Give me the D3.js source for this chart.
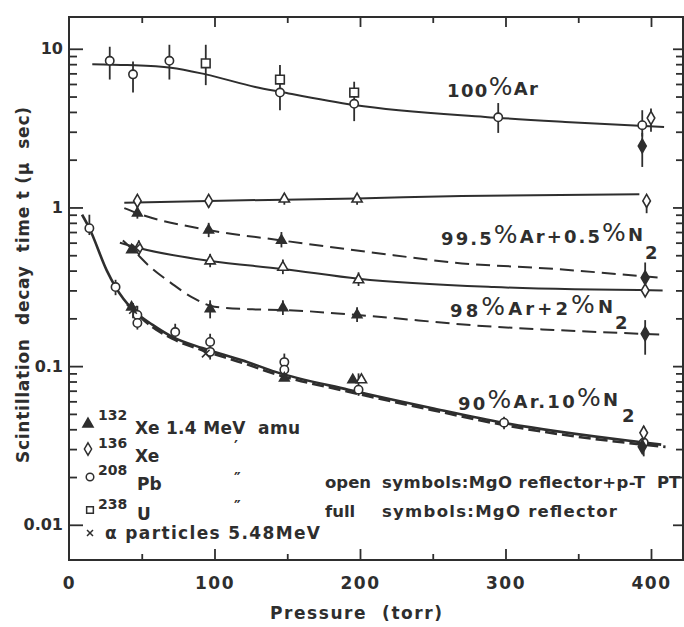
<!DOCTYPE html>
<html lang="en">
<head>
<meta charset="UTF-8">
<title>Scintillation decay time vs pressure</title>
<script src="https://d3js.org/d3.v7.min.js"></script>
<style>
  body { margin: 0; background: #fff; }
  svg text { font-family: 'DejaVu Sans', sans-serif; font-weight: bold; fill: #2e2e2e; }
</style>
</head>
<body>
<svg width="684" height="627"></svg>
<script>
    // curves: [pressure (torr), decay time (us)]
    const ar100 = [[16,8.0],[40,7.9],[70,7.6],[94,6.9],[128,5.75],[146,5.34],[196,4.42],[286,3.72],[341,3.46],[409,3.21]];
    const ar995Open = [[38,1.07],[96,1.10],[198,1.14],[270,1.18],[392,1.21]];
    const ar995Full = [[38,0.99],[47,0.92],[96,0.72],[146,0.62],[223,0.50],[264,0.45],[333,0.41],[407,0.36]];
    const ar98Open = [[35,0.60],[48,0.555],[97,0.46],[147,0.41],[199,0.355],[292,0.315],[408,0.30]];
    const ar98Full = [[37,0.62],[44,0.54],[56,0.42],[70,0.335],[85,0.27],[100,0.237],[126,0.228],[147,0.226],[198,0.21],[292,0.177],[333,0.169],[408,0.158]];
    const ar90Open = [[9,0.9],[14,0.74],[26,0.40],[32,0.315],[44,0.226],[57.5,0.182],[71,0.153],[91.6,0.130],[119,0.109],[142,0.092],[192,0.071],[249,0.0545],[299,0.0439],[395,0.033],[407,0.032]];
    const ar90Full = [[40,0.245],[57.5,0.176],[71,0.149],[91.6,0.126],[119,0.105],[142,0.089],[192,0.069],[249,0.053],[299,0.0425],[395,0.032],[410,0.031]];

    // measured points by symbol
    const openCircles = [[28,8.4],[44,6.9],[69,8.4],[145,5.3],[196,4.5],[295,3.7],[394,3.3],
        [14,0.74],[32,0.315],[47,0.21],[47,0.187],[73,0.164],[97,0.142],[97,0.123],[148,0.106],[148,0.095],[199,0.071],[299,0.044],[395,0.033]];
    const openSquares = [[94,8.1],[145,6.4],[196,5.3]];
    const openDiamonds = [[400,3.66],[47,1.10],[96,1.10],[397,1.10],[48,0.555],[396,0.30],[395,0.038]];
    const openTriangles = [[148,1.13],[198,1.13],[97,0.46],[147,0.42],[199,0.35],[201,0.082]];
    const fullTriangles = [[47,0.92],[96,0.72],[146,0.62],[43,0.54],[97,0.229],[147,0.233],[198,0.21],[43,0.235],[148,0.084],[195,0.082]];
    const fullDiamonds = [[394,2.44],[396,0.36],[396,0.16],[394,0.031]];
    const alphaCrosses = [[46,0.555],[44,0.226],[94,0.12]];

    // error bars: [pressure, low, high]
    const errBars = [
        [28,6.4,10.3],[44,5.3,8.3],[69,6.4,10.6],[94,5.9,10.6],[145,4.1,7.9],[196,3.5,6.2],[295,2.95,4.55],[394,2.8,4.1],[400,3.0,4.2],[394,1.8,2.95],
        [47,1.0,1.2],[96,1.0,1.2],[148,1.04,1.22],[198,1.04,1.22],[397,0.92,1.15],
        [47,0.85,1.0],[96,0.65,0.8],[146,0.56,0.7],[396,0.335,0.45],
        [48,0.5,0.62],[97,0.42,0.51],[147,0.38,0.47],[199,0.32,0.39],
        [97,0.2,0.26],[147,0.21,0.26],[198,0.19,0.235],[396,0.118,0.195],
        [14,0.67,0.9],[32,0.28,0.35],[44,0.2,0.25],[47,0.17,0.24],[73,0.15,0.185],[97,0.11,0.16],[148,0.082,0.12],[199,0.065,0.09],[299,0.04,0.048],[395,0.027,0.042]
    ];

    const xMajor = [0, 100, 200, 300, 400];
    const xMinor = [50, 150, 250, 350];
    const yMajor = [0.01, 0.1, 1, 10];
    const yLabels = ["0.01", "0.1", "1", "10"];

    const ink = "#2e2e2e";
    const svg = d3.select("svg");
    const plotL = 69, plotR = 683, plotT = 17, plotB = 560;

    const x = d3.scaleLinear().domain([0, 422]).range([plotL, plotR]);
    const y = d3.scaleLog().domain([0.006, 15.86]).range([plotB, plotT]);
    const yMinor = y.ticks().filter(t => t >= 0.01 && t <= 10 && !yMajor.includes(t));

    function styleAxis(g, fontSize, spacing) {
        g.select(".domain").remove();
        g.selectAll(".tick line").attr("stroke", ink).attr("stroke-width", 1.8);
        g.selectAll(".tick text").attr("fill", ink).attr("font-size", fontSize)
            .attr("font-family", "'DejaVu Sans', sans-serif").attr("letter-spacing", spacing || 0);
        g.attr("font-family", null).attr("font-size", null);
    }

    // ticks, all pointing inside the frame
    svg.append("g").attr("transform", `translate(${plotL},0)`)
        .call(d3.axisRight(y).tickValues(yMinor).tickSize(8).tickFormat("")).call(styleAxis, 16);
    svg.append("g").attr("transform", `translate(${plotL},0)`)
        .call(d3.axisRight(y).tickValues(yMajor).tickSize(14).tickFormat("")).call(styleAxis, 16);
    svg.append("g").attr("transform", `translate(${plotR},0)`)
        .call(d3.axisLeft(y).tickValues(yMinor).tickSize(7).tickFormat("")).call(styleAxis, 16);
    svg.append("g").attr("transform", `translate(${plotR},0)`)
        .call(d3.axisLeft(y).tickValues(yMajor).tickSize(10).tickFormat("")).call(styleAxis, 16);
    svg.append("g").attr("transform", `translate(${plotL - 4},0)`)
        .call(d3.axisLeft(y).tickValues(yMajor).tickSize(0).tickPadding(2).tickFormat((d, i) => yLabels[i]))
        .call(styleAxis, 16, 0);

    svg.append("g").attr("transform", `translate(0,${plotB})`)
        .call(d3.axisTop(x).tickValues(xMinor).tickSize(6).tickFormat("")).call(styleAxis, 17);
    svg.append("g").attr("transform", `translate(0,${plotB})`)
        .call(d3.axisTop(x).tickValues(xMajor.slice(1)).tickSize(11).tickFormat("")).call(styleAxis, 17);
    svg.append("g").attr("transform", `translate(0,${plotT})`)
        .call(d3.axisBottom(x).tickValues(xMinor).tickSize(6).tickFormat("")).call(styleAxis, 17);
    svg.append("g").attr("transform", `translate(0,${plotT})`)
        .call(d3.axisBottom(x).tickValues(xMajor.slice(1)).tickSize(10).tickFormat("")).call(styleAxis, 17);
    svg.append("g").attr("transform", `translate(0,${plotB})`)
        .call(d3.axisBottom(x).tickValues(xMajor).tickSize(0).tickPadding(17).tickFormat(d3.format("d")))
        .call(styleAxis, 17, 1.5);

    // frame
    svg.append("rect").attr("x", plotL).attr("y", plotT)
        .attr("width", plotR - plotL).attr("height", plotB - plotT)
        .attr("fill", "none").attr("stroke", ink).attr("stroke-width", 2);

    // curves
    const line = d3.line().x(d => x(d[0])).y(d => y(d[1])).curve(d3.curveMonotoneX);
    const curves = [
        [ar100, null, 2], [ar995Open, null, 2], [ar995Full, "14,7", 2],
        [ar98Open, null, 2], [ar98Full, "14,7", 2],
        [ar90Open, null, 2.6], [ar90Full, "12,5", 2.6]
    ];
    curves.forEach(([data, dash, w]) => {
        svg.append("path").datum(data).attr("d", line)
            .attr("fill", "none").attr("stroke", ink).attr("stroke-width", w)
            .attr("stroke-dasharray", dash);
    });

    // error bars
    svg.append("g").selectAll("line").data(errBars).join("line")
        .attr("x1", d => x(d[0])).attr("x2", d => x(d[0]))
        .attr("y1", d => y(d[1])).attr("y2", d => y(d[2]))
        .attr("stroke", ink).attr("stroke-width", 1.8);

    // markers
    function markers(data, type, size, filled) {
        svg.append("g").selectAll("path").data(data).join("path")
            .attr("transform", d => `translate(${x(d[0])},${y(d[1])})`)
            .attr("d", d3.symbol().type(type).size(size))
            .attr("fill", filled ? ink : "#fff")
            .attr("stroke", ink).attr("stroke-width", 1.6);
    }
    markers(openCircles, d3.symbolCircle, 55, false);
    markers(openSquares, d3.symbolSquare, 75, false);
    markers(openDiamonds, d3.symbolDiamond, 50, false);
    markers(openTriangles, d3.symbolTriangle, 45, false);
    markers(fullTriangles, d3.symbolTriangle, 40, true);
    markers(fullDiamonds, d3.symbolDiamond, 55, true);
    markers(alphaCrosses, d3.symbolTimes, 40, true);

    // curve labels, with the large per-cent sign of the original
    function mixLabel(x0, base, segs, len, subX, subY) {
        const t = svg.append("text").attr("x", x0).attr("y", base).attr("font-size", 18)
            .attr("textLength", len).attr("lengthAdjust", "spacing");
        segs.forEach(s => {
            if (s === "%") {
                t.append("tspan").attr("font-size", 25).attr("font-weight", "normal").attr("dy", -2).text("%");
                t.append("tspan").attr("dy", 2).text("");
            } else {
                t.append("tspan").text(s);
            }
        });
        if (subX) svg.append("text").attr("x", subX).attr("y", subY).attr("font-size", 18).text("2");
    }
    mixLabel(447, 97, ["100", "%", "Ar"], 91);
    mixLabel(441, 245, ["99.5", "%", "Ar+0.5", "%", "N"], 202, 645, 259);
    mixLabel(450, 317, ["98", "%", "Ar+2", "%", "N"], 163, 615, 329);
    mixLabel(458, 410, ["90", "%", "Ar.10", "%", "N"], 160, 622, 422);

    // legend
    const leg = svg.append("g");
    [[d3.symbolTriangle, 88, 424, true], [d3.symbolDiamond, 88, 449, false],
     [d3.symbolCircle, 90, 477, false], [d3.symbolSquare, 90, 510, false],
     [d3.symbolTimes, 90, 533, true]].forEach(([type, lx, ly, filled]) => {
        leg.append("path").attr("transform", `translate(${lx},${ly})`)
            .attr("d", d3.symbol().type(type).size(type === d3.symbolTimes ? 25 : 45))
            .attr("fill", filled ? ink : "#fff").attr("stroke", ink).attr("stroke-width", 1.5);
    });
    const sup = [["132", 420], ["136", 448], ["208", 475], ["238", 509]];
    sup.forEach(([s, by]) => leg.append("text").attr("x", 98).attr("y", by).attr("font-size", 14).text(s));
    leg.append("text").attr("x", 135).attr("y", 434).attr("font-size", 17)
        .attr("textLength", 165).attr("lengthAdjust", "spacing").text("Xe 1.4 MeV\u00a0 amu");
    leg.append("text").attr("x", 135).attr("y", 462).attr("font-size", 17).text("Xe");
    leg.append("text").attr("x", 137).attr("y", 490).attr("font-size", 17).text("Pb");
    leg.append("text").attr("x", 137).attr("y", 520).attr("font-size", 17).text("U");
    leg.append("text").attr("x", 105).attr("y", 539).attr("font-size", 17)
        .attr("textLength", 215).attr("lengthAdjust", "spacing").text("\u03b1 particles 5.48MeV");
    [["\u2032", 452], ["\u2033", 484], ["\u2033", 512]].forEach(([s, by]) =>
        leg.append("text").attr("x", 234).attr("y", by).attr("font-size", 15).text(s));

    leg.append("text").attr("x", 325).attr("y", 488).attr("font-size", 16.5).text("open");
    leg.append("text").attr("x", 382).attr("y", 488).attr("font-size", 16.5)
        .attr("textLength", 263).attr("lengthAdjust", "spacing").text("symbols:MgO reflector+p-T");
    leg.append("text").attr("x", 657).attr("y", 488).attr("font-size", 16.5).text("PT");
    leg.append("text").attr("x", 325).attr("y", 517).attr("font-size", 16.5).text("full");
    leg.append("text").attr("x", 382).attr("y", 517).attr("font-size", 16.5)
        .attr("textLength", 235).attr("lengthAdjust", "spacing").text("symbols:MgO reflector");

    // axis titles
    svg.append("text").attr("transform", "translate(29,285) rotate(-90)")
        .attr("text-anchor", "middle").attr("font-size", 17)
        .attr("textLength", 356).attr("lengthAdjust", "spacing")
        .text("Scintillation\u00a0 decay\u00a0 time t (\u03bc\u00a0 sec)");
    svg.append("text").attr("x", 356).attr("y", 619)
        .attr("text-anchor", "middle").attr("font-size", 17)
        .attr("textLength", 172).attr("lengthAdjust", "spacing")
        .text("Pressure\u00a0 (torr)");
</script>
</body>
</html>
